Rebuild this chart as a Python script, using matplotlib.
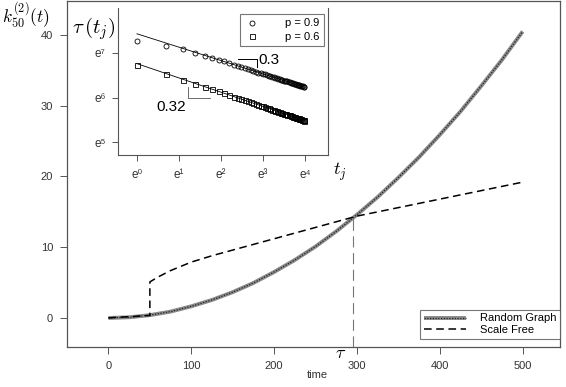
"""Degree growth chart: random graph vs scale free, with log-log inset."""

import matplotlib
matplotlib.use('Agg')
import matplotlib.pyplot as plt
import numpy as np

plt.rcParams['font.family'] = ['Liberation Sans', 'DejaVu Sans']
plt.rcParams['mathtext.fontset'] = 'cm'

# Main panel data
time = [0, 25, 50, 75, 100, 125, 150, 175, 200, 225, 250,
        275, 300, 325, 350, 375, 400, 425, 450, 475, 500]
random_graph = [0.0, 0.1, 0.4, 0.9, 1.65, 2.55, 3.65, 4.95, 6.5, 8.2, 10.1,
                12.25, 14.6, 17.1, 19.85, 22.75, 25.9, 29.2, 32.8, 36.5, 40.5]

sf_time = [0, 10, 20, 30, 40, 50, 50, 60, 75, 100, 125, 150, 175, 200, 225,
           250, 275, 300, 325, 350, 375, 400, 425, 450, 475, 500]
scale_free = [0.0, 0.1, 0.15, 0.2, 0.3, 0.35, 5.1, 5.8, 6.7, 7.9, 8.8, 9.6,
              10.4, 11.2, 12.0, 12.8, 13.6, 14.4, 15.0, 15.6, 16.2, 16.8,
              17.4, 18.0, 18.6, 19.2]

TAU = 295
TAU_VALUE = 14.4

# Inset data: ln(tau(t_j)) for t_j = 1..54
t_j = np.arange(1, 55)
log_tau_p09 = [7.27, 7.15, 7.08, 7.00, 6.94, 6.89, 6.85, 6.81, 6.77, 6.74,
               6.71, 6.68, 6.66, 6.64, 6.62, 6.60, 6.58, 6.56, 6.55, 6.53,
               6.52, 6.50, 6.49, 6.48, 6.46, 6.45, 6.44, 6.43, 6.42, 6.41,
               6.40, 6.39, 6.38, 6.37, 6.36, 6.36, 6.35, 6.34, 6.33, 6.32,
               6.32, 6.31, 6.30, 6.30, 6.29, 6.28, 6.28, 6.27, 6.26, 6.26,
               6.25, 6.25, 6.24, 6.23]
log_tau_p06 = [6.73, 6.53, 6.40, 6.31, 6.24, 6.19, 6.14, 6.10, 6.06, 6.02,
               5.99, 5.96, 5.94, 5.92, 5.89, 5.87, 5.85, 5.84, 5.82, 5.80,
               5.79, 5.77, 5.76, 5.74, 5.73, 5.72, 5.70, 5.69, 5.68, 5.67,
               5.66, 5.65, 5.64, 5.63, 5.62, 5.61, 5.60, 5.60, 5.59, 5.58,
               5.57, 5.56, 5.56, 5.55, 5.54, 5.54, 5.53, 5.52, 5.51, 5.51,
               5.50, 5.50, 5.49, 5.48]

# Fitted power laws (intercept, slope) in ln-ln space
FIT_P09 = (7.43, 0.30)
FIT_P06 = (6.76, 0.32)

INSET_X_LABELS = ["e⁰", "e¹", "e²", "e³", "e⁴"]
INSET_Y_LABELS = ["e⁵", "e⁶", "e⁷"]

TEXT = "#333333"
FRAME = "#555555"

fig = plt.figure(figsize=(5.66, 3.87), dpi=100)
ax = fig.add_axes([0.1184, 0.1034, 0.871, 0.894])

# Random graph: thick grey band with dotted texture
rg_band, = ax.plot(time, random_graph, color="#8a8a8a", lw=2.8,
                   solid_capstyle='butt')
rg_dots, = ax.plot(time, random_graph, color="#222222", lw=0.9,
                   linestyle=(0, (1, 1.2)))
sf_line, = ax.plot(sf_time, scale_free, color="black", lw=1.1,
                   linestyle=(0, (5, 3)))

ylim = (-4.1, 44.8)
ax.vlines(TAU, ylim[0], TAU_VALUE, color="#777777", lw=0.8,
          linestyle=(0, (10, 5)))

ax.set_xlim(-50, 545)
ax.set_ylim(*ylim)
ax.set_xticks([0, 100, 200, 300, 400, 500])
ax.set_yticks([0, 10, 20, 30, 40])
ax.tick_params(direction='out', length=5, width=0.7, colors=FRAME,
               labelcolor=TEXT, labelsize=8)
ax.tick_params(axis='x', pad=5)
ax.tick_params(axis='y', pad=5)
for spine in ax.spines.values():
    spine.set_color(FRAME)
    spine.set_linewidth(0.9)

fig.text(0.611, 0.108, r"$\tau$", fontsize=13, ha='right', va='top', color="black")
fig.text(0.56, 0.018, "time", fontsize=8, ha='center', va='bottom', color=TEXT)
fig.text(0.003, 0.998, r"$k^{(2)}_{50}(t)$", fontsize=12.5, ha='left', va='top')

leg = ax.legend([(rg_band, rg_dots), sf_line], ["Random Graph", "Scale Free"],
                loc='lower right', bbox_to_anchor=(1.0, 0.023), borderaxespad=0,
                fancybox=False, fontsize=8, handlelength=3.8,
                handletextpad=1.2, labelspacing=0.15, borderpad=0.35)
leg.get_frame().set_edgecolor(FRAME)
leg.get_frame().set_linewidth(0.8)

# Inset
ins = fig.add_axes([0.2085, 0.5995, 0.371, 0.380])
x_log = np.log(t_j)
ins.plot(x_log, log_tau_p09, linestyle='none', marker='o', ms=3.6,
         mfc='none', mec='black', mew=0.6, label="p = 0.9")
ins.plot(x_log, log_tau_p06, linestyle='none', marker='s', ms=3.6,
         mfc='none', mec='black', mew=0.6, label="p = 0.6")
x_fit = np.array([0, x_log[-1]])
ins.plot(x_fit, FIT_P09[0] - FIT_P09[1] * x_fit, color="black", lw=0.6)
ins.plot(x_fit, FIT_P06[0] - FIT_P06[1] * x_fit, color="black", lw=0.6)

# Slope markers
ins.plot([2.40, 2.86, 2.86], [6.865, 6.865, 6.685], color="black", lw=0.7)
ins.text(2.90, 6.85, "0.3", fontsize=11, ha='left', va='center')
ins.plot([1.74, 1.21, 1.21], [6.0, 6.0, 6.225], color="#555555", lw=0.6)
ins.text(0.47, 5.79, "0.32", fontsize=11, ha='left', va='center')

ins.set_xlim(-0.45, 4.55)
ins.set_ylim(4.71, 8.01)
ins.set_xticks([0, 1, 2, 3, 4])
ins.set_xticklabels(INSET_X_LABELS)
ins.set_yticks([5, 6, 7])
ins.set_yticklabels(INSET_Y_LABELS)
ins.tick_params(direction='out', length=4, width=0.7, colors=FRAME,
                labelcolor=TEXT, labelsize=8.5)
ins.tick_params(axis='x', pad=6)
ins.tick_params(axis='y', pad=5)
ins.spines['top'].set_visible(False)
for name in ('left', 'right', 'bottom'):
    ins.spines[name].set_color(FRAME)
    ins.spines[name].set_linewidth(0.8)

fig.text(0.127, 0.925, r"$\tau\,(t_j)$", fontsize=15, ha='left', va='center')
fig.text(0.589, 0.555, r"$t_j$", fontsize=13, ha='left', va='center')

ileg = ins.legend(loc='upper right', bbox_to_anchor=(0.981, 0.959),
                  borderaxespad=0, fancybox=False, fontsize=8,
                  handlelength=1.5, handletextpad=2.2, labelspacing=0.3,
                  borderpad=0.4)
ileg.get_frame().set_edgecolor(FRAME)
ileg.get_frame().set_linewidth(0.8)

fig.savefig("out.png", dpi=100, facecolor="white")
